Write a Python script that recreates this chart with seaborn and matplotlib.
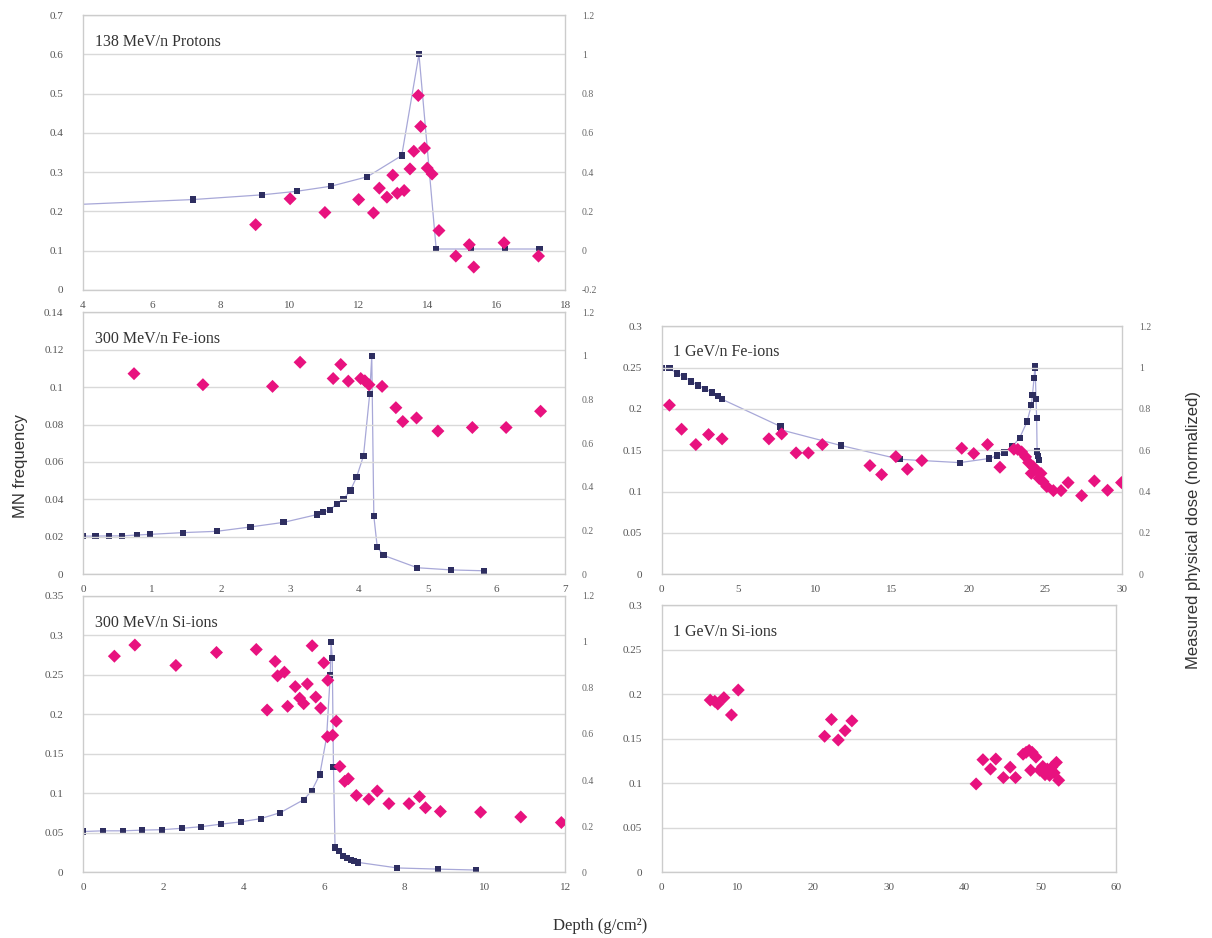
import numpy as np
import pandas as pd
import matplotlib
matplotlib.use("Agg")
import matplotlib.pyplot as plt
import matplotlib.ticker as ticker
import seaborn as sns

# MN frequency (pink diamonds, left axis) and measured dose (navy squares, right axis)

# 138 MeV/n Protons
p1_mn_x = [9.01, 10.01, 11.02, 12.0, 12.43, 12.6, 12.82, 12.99, 13.12, 13.32, 13.49, 13.6,
           13.73, 13.8, 13.91, 13.99, 14.13, 14.33, 14.82, 15.21, 15.34, 16.22, 17.22]
p1_mn_y = [0.166, 0.232, 0.197, 0.230, 0.196, 0.259, 0.236, 0.292, 0.246, 0.253, 0.308, 0.353,
           0.495, 0.416, 0.361, 0.310, 0.295, 0.151, 0.086, 0.115, 0.058, 0.120, 0.086]
p1_dose_x = [7.2, 9.2, 10.2, 11.2, 12.25, 13.25, 13.75, 14.25, 15.25, 16.25, 17.25]
p1_dose_y = [0.26, 0.284, 0.302, 0.328, 0.376, 0.484, 1.0, 0.008, 0.008, 0.008, 0.008]
p1_line_start = (4.0, 0.236)

# 300 MeV/n Fe-ions
p2_mn_x = [0.74, 1.74, 2.75, 3.15, 3.63, 3.74, 3.85, 4.03, 4.09, 4.15, 4.34, 4.54, 4.64,
           4.84, 5.15, 5.65, 6.14, 6.64]
p2_mn_y = [0.1072, 0.1013, 0.1004, 0.1133, 0.1046, 0.1121, 0.1032, 0.1046, 0.1034, 0.1013,
           0.1004, 0.089, 0.0816, 0.0835, 0.0765, 0.0784, 0.0784, 0.0871]
p2_dose_x = [0.0, 0.18, 0.38, 0.57, 0.78, 0.97, 1.45, 1.94, 2.43, 2.91, 3.40, 3.48, 3.58,
             3.68, 3.78, 3.88, 3.97, 4.07, 4.16, 4.19, 4.22, 4.27, 4.36, 4.85, 5.34, 5.82]
p2_dose_y = [0.174, 0.174, 0.175, 0.175, 0.179, 0.182, 0.19, 0.196, 0.216, 0.237, 0.273,
             0.283, 0.294, 0.32, 0.344, 0.383, 0.445, 0.542, 0.825, 1.0, 0.266, 0.123,
             0.086, 0.029, 0.019, 0.015]

# 1 GeV/n Fe-ions
p3_mn_x = [0.5, 1.29, 2.22, 3.05, 3.93, 6.98, 7.81, 8.75, 9.55, 10.46, 13.56, 14.32, 15.25,
           16.0, 16.94, 19.54, 20.32, 21.22, 22.03, 22.94, 23.19, 23.44, 23.7, 23.9, 24.07,
           24.2, 24.45, 24.58, 24.7, 24.83, 25.08, 25.51, 26.01, 26.47, 27.35, 28.18, 29.04,
           29.95]
p3_mn_y = [0.2046, 0.1755, 0.1569, 0.169, 0.1638, 0.1638, 0.1698, 0.1468, 0.1468, 0.1569,
           0.1314, 0.1205, 0.1423, 0.127, 0.1375, 0.1524, 0.146, 0.1569, 0.1294, 0.1512,
           0.151, 0.148, 0.142, 0.135, 0.122, 0.130, 0.125, 0.116, 0.122, 0.112, 0.106,
           0.1011, 0.1011, 0.1108, 0.095, 0.1128, 0.1015, 0.1108]
p3_dose_x = [0.0, 0.5, 1.0, 1.46, 1.92, 2.37, 2.82, 3.28, 3.66, 3.93, 7.74, 7.76, 11.67,
             15.53, 19.41, 21.33, 21.83, 22.33, 22.84, 23.32, 23.8, 24.07, 24.15, 24.25,
             24.3, 24.32, 24.38, 24.42, 24.45, 24.5, 24.58]
p3_dose_y = [1.0, 0.998, 0.972, 0.957, 0.933, 0.914, 0.898, 0.88, 0.864, 0.847, 0.715,
             0.699, 0.623, 0.556, 0.54, 0.56, 0.574, 0.589, 0.618, 0.661, 0.739, 0.818,
             0.869, 0.949, 1.0, 1.006, 0.847, 0.755, 0.594, 0.573, 0.553]

# 300 MeV/n Si-ions
p4_mn_x = [0.78, 1.29, 2.31, 3.32, 4.31, 4.58, 4.78, 4.84, 5.01, 5.09, 5.28, 5.39, 5.49,
           5.58, 5.70, 5.79, 5.91, 5.99, 6.08, 6.09, 6.21, 6.30, 6.39, 6.51, 6.6, 6.8, 7.11,
           7.32, 7.61, 8.11, 8.37, 8.52, 8.89, 9.89, 10.89, 11.9]
p4_mn_y = [0.2734, 0.2875, 0.2617, 0.2781, 0.2819, 0.2053, 0.2668, 0.2485, 0.2532, 0.21,
           0.2349, 0.2203, 0.2133, 0.2382, 0.2866, 0.2217, 0.2077, 0.265, 0.1715, 0.2429,
           0.1734, 0.1912, 0.1339, 0.1151, 0.1184, 0.0972, 0.0925, 0.1029, 0.0869, 0.0869,
           0.0958, 0.0817, 0.077, 0.0761, 0.07, 0.063]
p4_dose_x = [0.0, 0.49, 0.99, 1.46, 1.97, 2.46, 2.94, 3.43, 3.93, 4.42, 4.91, 5.49, 5.69,
             5.89, 6.06, 6.15, 6.17, 6.2, 6.23, 6.27, 6.36, 6.47, 6.56, 6.66, 6.75, 6.85,
             7.82, 8.83, 9.78]
p4_dose_y = [0.177, 0.18, 0.18, 0.183, 0.185, 0.191, 0.198, 0.209, 0.219, 0.233, 0.259,
             0.315, 0.354, 0.424, 0.587, 0.855, 1.0, 0.93, 0.457, 0.108, 0.092, 0.071,
             0.063, 0.055, 0.048, 0.043, 0.019, 0.014, 0.01]

# 1 GeV/n Si-ions
p5_mn_x = [6.4, 7.0, 7.4, 8.2, 9.2, 10.1, 21.5, 22.4, 23.3, 24.2, 25.1, 41.5, 42.4, 43.4,
           44.1, 45.1, 46.0, 46.7, 47.7, 48.1, 48.5, 48.7, 48.9, 49.4, 49.9, 50.3, 50.6,
           50.9, 51.2, 51.5, 51.8, 52.1, 52.4]
p5_mn_y = [0.1933, 0.192, 0.189, 0.196, 0.1766, 0.2046, 0.1527, 0.1715, 0.1485, 0.159, 0.170,
           0.0992, 0.1264, 0.1159, 0.1272, 0.1063, 0.118, 0.1063, 0.1326, 0.1347, 0.1368,
           0.1146, 0.1347, 0.1293, 0.1146, 0.1188, 0.1096, 0.1159, 0.1088, 0.118, 0.1117,
           0.1234, 0.1033]

titles = ["138 MeV/n Protons", "300 MeV/n Fe-ions", "1 GeV/n Fe-ions",
          "300 MeV/n Si-ions", "1 GeV/n Si-ions"]

PINK = "#e8127f"
NAVY = "#2e2e60"
LINE = "#a8a8d8"
GRID = "#d9d9d9"
SERIF = ["Liberation Serif", "DejaVu Serif"]
SANS = ["Liberation Sans", "DejaVu Sans"]

sns.set_style("white")
plt.rcParams["font.family"] = SERIF

fig = plt.figure(figsize=(12.12, 9.38), dpi=100)

# axes rectangles (left, bottom, width, height)
rects = [
    (0.0685, 0.691, 0.398, 0.293),
    (0.0685, 0.388, 0.398, 0.279),
    (0.546, 0.388, 0.380, 0.264),
    (0.0685, 0.070, 0.398, 0.295),
    (0.546, 0.070, 0.375, 0.285),
]

panels = [
    dict(mx=p1_mn_x, my=p1_mn_y, dx=p1_dose_x, dy=p1_dose_y,
         lx=[p1_line_start[0]] + p1_dose_x, ly=[p1_line_start[1]] + p1_dose_y,
         xlim=(4, 18), xstep=2, ylim=(0, 0.7), ystep=0.1, rlim=(-0.2, 1.2)),
    dict(mx=p2_mn_x, my=p2_mn_y, dx=p2_dose_x, dy=p2_dose_y, lx=p2_dose_x, ly=p2_dose_y,
         xlim=(0, 7), xstep=1, ylim=(0, 0.14), ystep=0.02, rlim=(0, 1.2)),
    dict(mx=p3_mn_x, my=p3_mn_y, dx=p3_dose_x, dy=p3_dose_y, lx=p3_dose_x, ly=p3_dose_y,
         xlim=(0, 30), xstep=5, ylim=(0, 0.3), ystep=0.05, rlim=(0, 1.2)),
    dict(mx=p4_mn_x, my=p4_mn_y, dx=p4_dose_x, dy=p4_dose_y, lx=p4_dose_x, ly=p4_dose_y,
         xlim=(0, 12), xstep=2, ylim=(0, 0.35), ystep=0.05, rlim=(0, 1.2)),
    dict(mx=p5_mn_x, my=p5_mn_y, dx=None, dy=None, lx=None, ly=None,
         xlim=(0, 60), xstep=10, ylim=(0, 0.3), ystep=0.05, rlim=None),
]

fmt = ticker.FuncFormatter(lambda v, _: f"{round(v, 3):g}")

for rect, p, title in zip(rects, panels, titles):
    ax = fig.add_axes(rect)
    if p["rlim"] is not None:
        ax2 = ax.twinx()
        sns.lineplot(x=p["lx"], y=p["ly"], ax=ax2, color=LINE, lw=0.9,
                     estimator=None, sort=False)
        sns.scatterplot(x=p["dx"], y=p["dy"], ax=ax2, marker="s", s=20, color=NAVY,
                        edgecolor="none", zorder=3)
        ax2.set_ylim(*p["rlim"])
        ax2.set_yticks(np.arange(p["rlim"][0], p["rlim"][1] + 0.01, 0.2))
        ax2.yaxis.set_major_formatter(fmt)
        ax2.tick_params(axis="y", labelsize=7, colors="#666666", length=0, pad=12)
        for s in ax2.spines.values():
            s.set_visible(False)
        ax.set_zorder(ax2.get_zorder() + 1)
        ax.patch.set_visible(False)

    sns.scatterplot(x=p["mx"], y=p["my"], ax=ax, marker="D", s=44, color=PINK,
                    edgecolor="none", zorder=4)
    ax.set_xlim(*p["xlim"])
    ax.set_ylim(*p["ylim"])
    ax.set_xticks(np.arange(p["xlim"][0], p["xlim"][1] + 0.001, p["xstep"]))
    ax.set_yticks(np.arange(p["ylim"][0], p["ylim"][1] + p["ystep"] / 2, p["ystep"]))
    ax.yaxis.set_major_formatter(fmt)
    ax.xaxis.set_major_formatter(fmt)
    ax.yaxis.grid(True, color=GRID, lw=1.0)
    ax.set_axisbelow(True)
    ax.tick_params(labelsize=8, colors="#555555", length=0)
    ax.tick_params(axis="y", pad=14)
    ax.tick_params(axis="x", pad=8)
    for s in ax.spines.values():
        s.set_color("#cccccc")
        s.set_linewidth(1.0)
    ax.text(0.025, 0.93, title, transform=ax.transAxes, fontsize=11.5,
            ha="left", va="top", color="#333333")

fig.text(0.017, 0.503, "MN frequency", rotation=90, ha="center", va="center",
         fontsize=12, color="#333333", family=SANS)
fig.text(0.985, 0.435, "Measured physical dose (normalized)", rotation=90,
         ha="center", va="center", fontsize=12, color="#333333", family=SANS)
fig.text(0.495, 0.013, "Depth (g/cm²)", ha="center", va="center", fontsize=12,
         color="#333333")

fig.savefig("out.png", dpi=100)
